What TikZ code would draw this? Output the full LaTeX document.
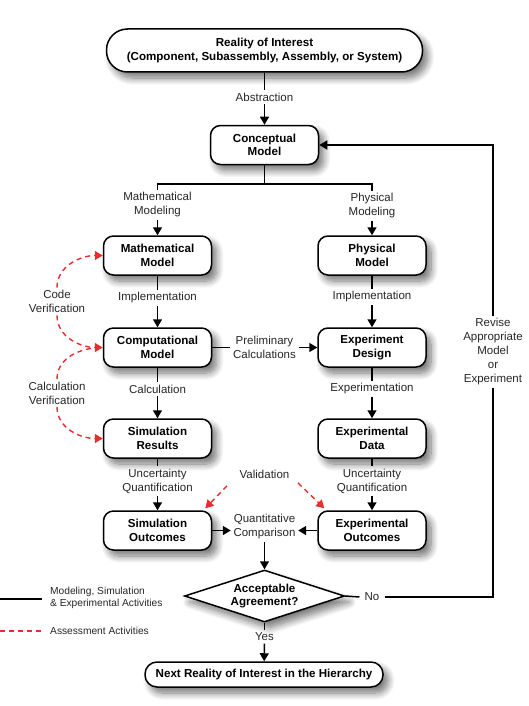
\documentclass[tikz,border=0pt]{standalone}
\usepackage{fontspec}
\setmainfont{Liberation Sans}
\usetikzlibrary{shapes.geometric,arrows.meta,shadows.blur}
\definecolor{asred}{RGB}{232,44,48}
\begin{document}
\begin{tikzpicture}[x=1pt,y=-1pt,
  shadowed/.style={blur shadow={shadow xshift=5pt, shadow yshift=-6pt, shadow blur radius=7pt, shadow blur steps=10, shadow opacity=55}},
  box/.style={draw=black, line width=1.5pt, fill=white, rounded corners=10pt,
    minimum width=108pt, minimum height=39pt, align=center, inner sep=0pt,
    font=\fontsize{11.6}{13.5}\selectfont\bfseries, shadowed},
  pill/.style={box, rounded corners=#1},
  lbl/.style={align=center, font=\fontsize{11.5}{14}\selectfont, text=black!85, inner sep=2.5pt},
  leg/.style={align=left, font=\fontsize{10.2}{12}\selectfont, text=black!85, inner sep=0pt, anchor=west},
  conn/.style={line width=1.5pt, draw=black},
  arr/.style={conn, -{Triangle[length=8pt,width=9pt]}},
  assessline/.style={draw=asred, line width=1.4pt, dash pattern=on 5pt off 4pt},
  assess/.style={assessline, -{Triangle[length=8pt,width=9pt]}}
]
\useasboundingbox (0,0) rectangle (529,706);

% main column
\node[pill=21pt, minimum width=316pt, minimum height=43pt] (top) at (264.5,50.5)
  {Reality of Interest\\(Component, Subassembly, Assembly, or System)};
\node[lbl] (abs) at (264.5,97) {Abstraction};
\node[box] (concept) at (264.5,145) {Conceptual\\Model};

\node[lbl] (mathlbl) at (157.5,205) {Mathematical\\Modeling};
\node[lbl] (physlbl) at (372,206) {Physical\\Modeling};

% left column
\node[box] (math) at (157.5,255.5) {Mathematical\\Model};
\node[lbl] (impl1) at (157.5,298) {Implementation};
\node[box] (comp) at (157.5,347.5) {Computational\\Model};
\node[lbl] (calc) at (157.5,389) {Calculation};
\node[box] (simres) at (157.5,438.5) {Simulation\\Results};
\node[lbl] (uq1) at (157.5,481) {Uncertainty\\Quantification};
\node[box] (simout) at (157.5,530.5) {Simulation\\Outcomes};

% right column
\node[box] (phys) at (372,255.5) {Physical\\Model};
\node[lbl] (impl2) at (372,297) {Implementation};
\node[box] (expd) at (372,347.5) {Experiment\\Design};
\node[lbl] (expt) at (372,389) {Experimentation};
\node[box] (expdata) at (372,438.5) {Experimental\\Data};
\node[lbl] (uq2) at (372,481) {Uncertainty\\Quantification};
\node[box] (expout) at (372,530.5) {Experimental\\Outcomes};

% middle labels
\node[lbl] (prelim) at (264.5,347) {Preliminary\\Calculations};
\node[lbl] (val) at (264.5,474) {Validation};
\node[lbl] (qc) at (264.5,527) {Quantitative\\Comparison};
\node[draw=black, line width=1.5pt, fill=white, diamond, aspect=3.08, minimum width=160pt,
  minimum height=52pt, inner sep=0pt, align=center, font=\fontsize{11.6}{13.5}\selectfont\bfseries,
  shadowed] (dia) at (264.5,596) {Acceptable\\Agreement?};
\node[lbl] (yes) at (264.5,637) {Yes};
\node[pill=12pt, minimum width=238pt, minimum height=25pt] (next) at (264,674.5)
  {Next Reality of Interest in the Hierarchy};
\node[lbl, inner sep=5pt] (no) at (372,597) {No};
\node[lbl] (rev) at (493,352) {Revise\\Appropriate\\Model\\or\\Experiment};

% verification labels
\node[lbl] (code) at (57,301.5) {Code\\Verification};
\node[lbl] (calcv) at (57,393) {Calculation\\Verification};

% connectors
\draw[conn] (top) -- (abs);
\draw[arr] (abs) -- (concept);
\coordinate (br) at (264.5,184);
\draw[conn] (concept) -- (br);
\draw[conn] (mathlbl.north) |- (br) -| (physlbl.north);
\draw[arr] (mathlbl) -- (math);
\draw[arr] (physlbl) -- (phys);
\draw[conn] (math) -- (impl1);
\draw[arr] (impl1) -- (comp);
\draw[conn] (comp) -- (calc);
\draw[arr] (calc) -- (simres);
\draw[conn] (simres) -- (uq1);
\draw[arr] (uq1) -- (simout);
\draw[conn] (phys) -- (impl2);
\draw[arr] (impl2) -- (expd);
\draw[conn] (expd) -- (expt);
\draw[arr] (expt) -- (expdata);
\draw[conn] (expdata) -- (uq2);
\draw[arr] (uq2) -- (expout);
\draw[conn] (comp.east) -- (comp.east -| prelim.west);
\draw[arr] (prelim.east |- expd.west) -- (expd.west);
\draw[arr] (simout.east) -- (simout.east -| qc.west);
\draw[arr] (expout.west) -- (expout.west -| qc.east);
\draw[arr] (qc) -- (dia);
\draw[conn] (dia) -- (yes);
\draw[arr] (yes) -- (next);
\draw[conn] (dia.east) -- (no.west);
\draw[conn] (no.east) -| (rev.south);
\draw[arr] (rev.north) |- (concept.east);

% assessment
\draw[assess] (code.north) to[out=90,in=180] (math.west);
\draw[assess] (code.south) to[out=-90,in=180] (comp.west);
\draw[assessline] (calcv.north) to[out=90,in=180] (comp.west);
\draw[assess] (calcv.south) to[out=-90,in=180] (simres.west);
\draw[assess] ([xshift=-10pt,yshift=-5pt]val.south west) -- ([xshift=-7pt,yshift=2pt]simout.north east);
\draw[assess] ([xshift=6pt,yshift=-2pt]val.south east) -- ([xshift=7pt,yshift=2pt]expout.north west);

% legend
\coordinate (l1a) at (0,599);
\coordinate (l1b) at (42,599);
\coordinate (l2a) at (0,631);
\coordinate (l2b) at (42,631);
\draw[conn] (l1a) -- (l1b);
\draw[assessline] (l2a) -- (l2b);
\node[leg] (leg1) at (50,597.5) {Modeling, Simulation\\\& Experimental Activities};
\node[leg] (leg2) at (50,631) {Assessment Activities};
\end{tikzpicture}
\end{document}
